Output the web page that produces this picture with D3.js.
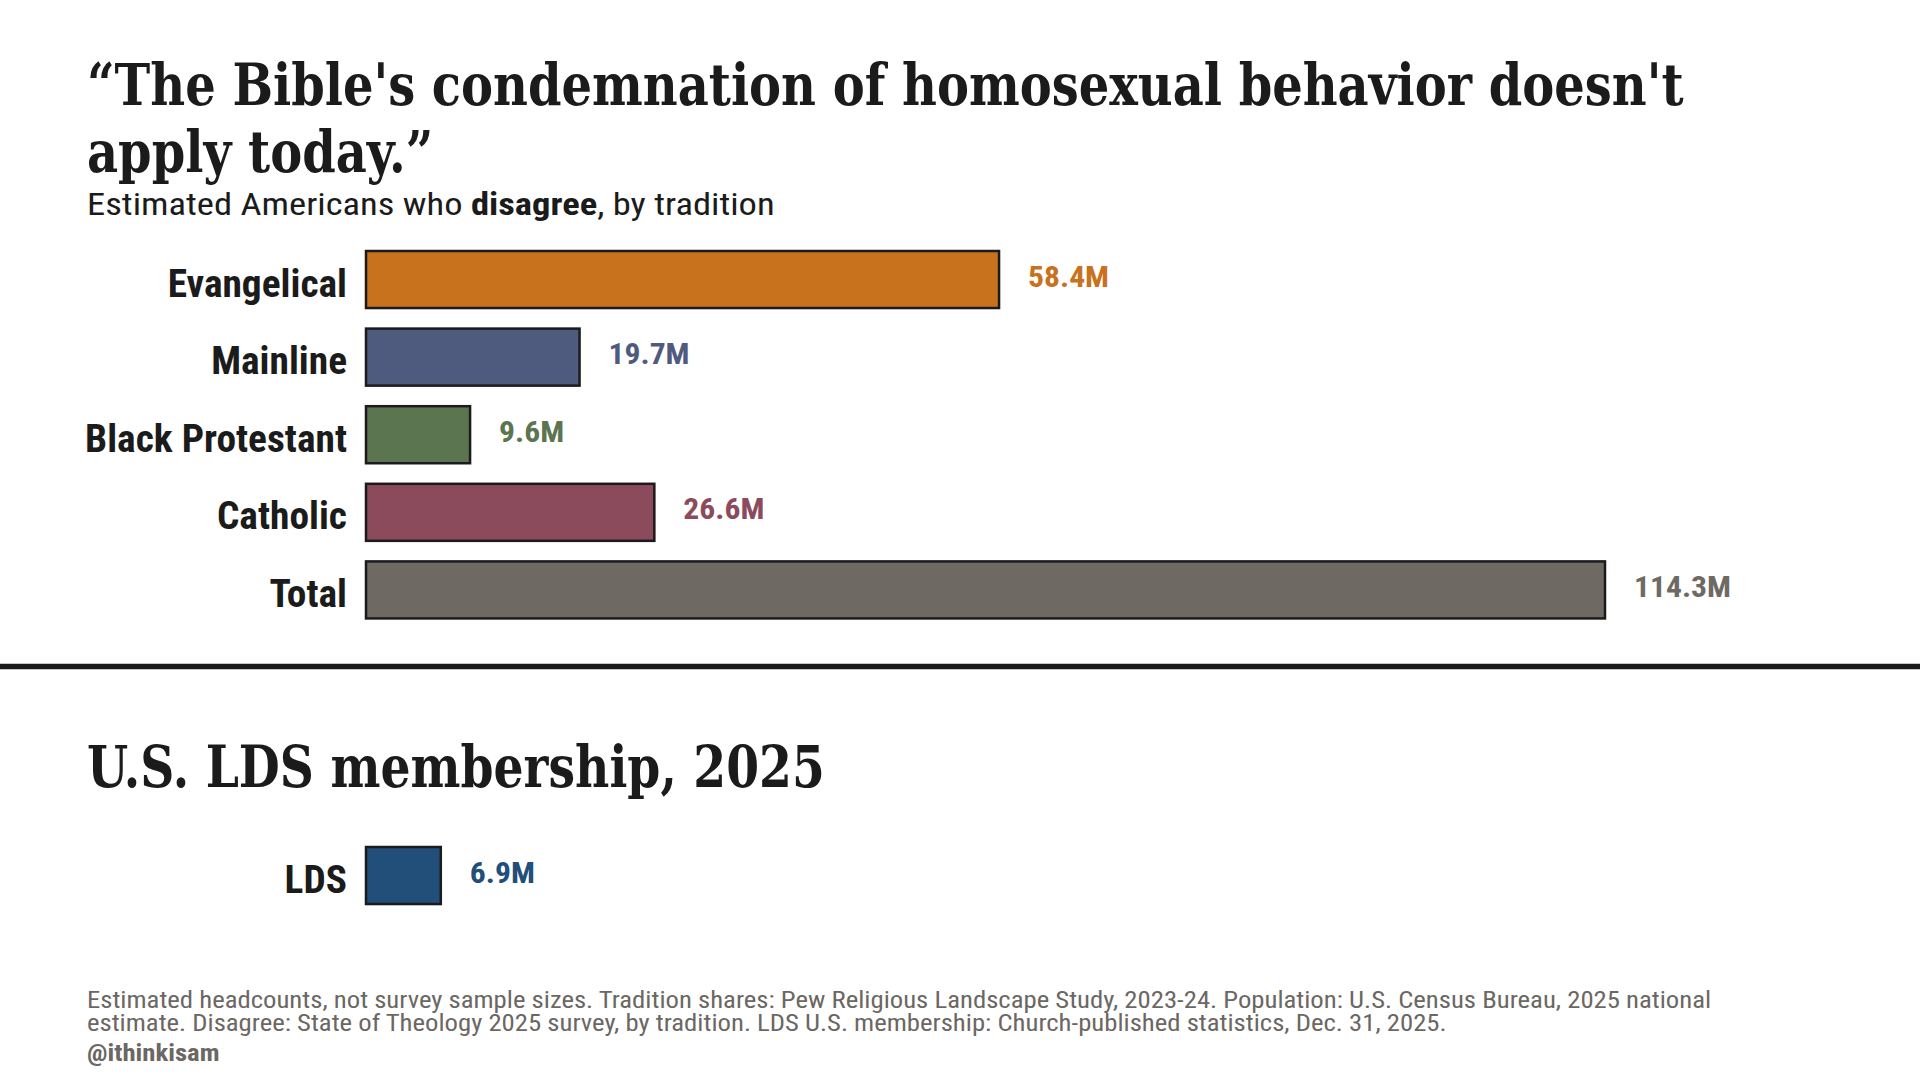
<!doctype html>
<html>
<head>
<meta charset="UTF-8">
<title>The Bible's condemnation of homosexual behavior doesn't apply today</title>
<script src="https://cdn.jsdelivr.net/npm/d3@7"></script>
<style>
  body { margin: 0; background: #fff; }
  svg { display: block; }
</style>
</head>
<body>
<script>
// data
var traditions = ["Evangelical", "Mainline", "Black Protestant", "Catholic", "Total"];
var disagreeMillions = [58.4, 19.7, 9.6, 26.6, 114.3];
var barColors = ["#c8721d", "#4f5b7e", "#5b7551", "#8c4a5d", "#6e6a63"];

var ldsCategories = ["LDS"];
var ldsMillions = [6.9];
var ldsColors = ["#214f7a"];

var titleLines = ["\u201cThe Bible's condemnation of homosexual behavior doesn't", "apply today.\u201d"];
var title2 = "U.S. LDS membership, 2025";
var footLines = [
  "Estimated headcounts, not survey sample sizes. Tradition shares: Pew Religious Landscape Study, 2023-24. Population: U.S. Census Bureau, 2025 national",
  "estimate. Disagree: State of Theology 2025 survey, by tradition. LDS U.S. membership: Church-published statistics, Dec. 31, 2025."
];
var handle = "@ithinkisam";

var w = 1920, h = 1080;
var ink = "#1b1b1b";
var grey = "#6b6763";
var serif = "'Roboto Slab', 'DejaVu Serif', serif";
var sans = "'Roboto Condensed', Roboto, 'Liberation Sans', sans-serif";

var svg = d3.select("body").append("svg")
  .attr("width", w)
  .attr("height", h);

// squeeze a text horizontally so it takes the width seen in the reference
function fit(sel, width) {
  var len = sel.node().getComputedTextLength();
  return width / len;
}
function place(sel, x, y, k) {
  sel.attr("transform", "translate(" + x + "," + y + ") scale(" + k + ",1)");
}

// titles
var t1 = svg.append("text").attr("font-family", serif).attr("font-weight", 700)
  .attr("font-size", 57).attr("fill", ink).text(titleLines[0]);
var kTitle = fit(t1, 1597);
place(t1, 87, 105, kTitle);
var t2 = svg.append("text").attr("font-family", serif).attr("font-weight", 700)
  .attr("font-size", 57).attr("fill", ink).text(titleLines[1]);
place(t2, 87, 172, kTitle);

var sub = svg.append("text").attr("font-family", sans).attr("font-size", 31).attr("fill", ink);
sub.append("tspan").text("Estimated Americans who ");
sub.append("tspan").attr("font-weight", 700).text("disagree");
sub.append("tspan").text(", by tradition");
place(sub, 87, 215, fit(sub, 688));

// scales
var xScale = d3.scaleLinear()
  .domain([0, d3.max(disagreeMillions)])
  .range([366, 1605]);

var step = 77.6;
var yScale = d3.scaleBand()
  .domain(traditions)
  .range([251 - 0.1325 * step, 251 - 0.1325 * step + traditions.length * step])
  .paddingInner(0.265)
  .paddingOuter(0.1325);

var yLds = d3.scaleBand()
  .domain(ldsCategories)
  .range([847 - 0.1325 * step, 847 - 0.1325 * step + step])
  .paddingInner(0.265)
  .paddingOuter(0.1325);

var rows = traditions.map(function(d, i) {
  return {key: d, value: disagreeMillions[i], color: barColors[i]};
});
var ldsRows = ldsCategories.map(function(d, i) {
  return {key: d, value: ldsMillions[i], color: ldsColors[i]};
});

// measure condensing for labels
var probe = svg.append("text").attr("font-family", sans).attr("font-weight", 700)
  .attr("font-size", 38).text("Black Protestant");
var kLabel = fit(probe, 262);
probe.remove();
var probe2 = svg.append("text").attr("font-family", sans).attr("font-weight", 700)
  .attr("font-size", 29).text("114.3M");
var kValue = fit(probe2, 97);
probe2.remove();

function drawBars(g, data, y) {
  g.selectAll("rect")
    .data(data, function(d) { return d.key; })
    .enter()
    .append("rect")
    .attr("x", xScale(0))
    .attr("y", function(d) { return y(d.key); })
    .attr("width", function(d) { return xScale(d.value) - xScale(0); })
    .attr("height", y.bandwidth())
    .attr("fill", function(d) { return d.color; })
    .attr("stroke", ink)
    .attr("stroke-width", 2.5);

  g.selectAll("text.cat")
    .data(data, function(d) { return d.key; })
    .enter()
    .append("text")
    .attr("class", "cat")
    .attr("font-family", sans)
    .attr("font-weight", 700)
    .attr("font-size", 38)
    .attr("fill", ink)
    .attr("text-anchor", "end")
    .text(function(d) { return d.key; })
    .each(function(d) {
      place(d3.select(this), 347, y(d.key) + y.bandwidth() / 2 + 17, kLabel);
    });

  g.selectAll("text.val")
    .data(data, function(d) { return d.key; })
    .enter()
    .append("text")
    .attr("class", "val")
    .attr("font-family", sans)
    .attr("font-weight", 700)
    .attr("font-size", 29)
    .attr("fill", function(d) { return d.color; })
    .text(function(d) { return d.value + "M"; })
    .each(function(d) {
      place(d3.select(this), xScale(d.value) + 29, y(d.key) + y.bandwidth() / 2 + 7, kValue);
    });
}

drawBars(svg.append("g"), rows, yScale);

// divider
svg.append("line")
  .attr("x1", 0).attr("x2", w)
  .attr("y1", 666.5).attr("y2", 666.5)
  .attr("stroke", ink)
  .attr("stroke-width", 5.5);

var t3 = svg.append("text").attr("font-family", serif).attr("font-weight", 700)
  .attr("font-size", 57).attr("fill", ink).text(title2);
place(t3, 87, 787, fit(t3, 738));

drawBars(svg.append("g"), ldsRows, yLds);

// footnote
var f1 = svg.append("text").attr("font-family", sans).attr("font-size", 23)
  .attr("fill", grey).text(footLines[0]);
var kFoot = fit(f1, 1625);
place(f1, 87, 1008, kFoot);
var f2 = svg.append("text").attr("font-family", sans).attr("font-size", 23)
  .attr("fill", grey).text(footLines[1]);
place(f2, 87, 1031, kFoot);
var f3 = svg.append("text").attr("font-family", sans).attr("font-size", 23)
  .attr("font-weight", 700).attr("fill", grey).text(handle);
place(f3, 87, 1061, kFoot);
</script>
</body>
</html>
